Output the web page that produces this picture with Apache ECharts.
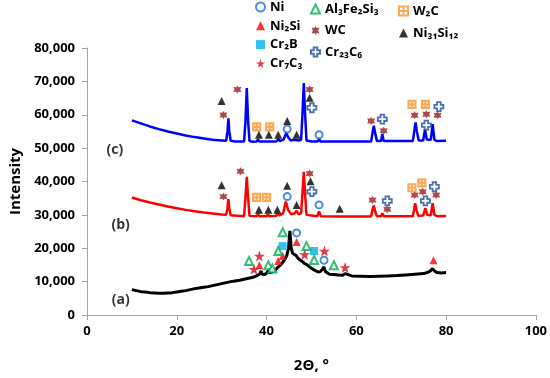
<!DOCTYPE html>
<html><head><meta charset="utf-8">
<script src="https://cdn.jsdelivr.net/npm/echarts@6/dist/echarts.min.js"></script>
<style>html,body{margin:0;padding:0;background:#fff}#c{width:550px;height:378px}</style>
</head><body><div id="c"></div>
<script>
// ---- Data: [2θ, intensity] ----
const patternC = [[10,58300],[12,57400],[14,56500],[16,55700],[18,55000],[20,54400],[22,53800],[24,53300],[26,52900],[28,52500],[30,52300],[31.0,52200],[31.3,55000],[31.5,58900],[31.7,55000],[32.0,52200],[33,52000],[35.0,52000],[35.3,58000],[35.6,68000],[35.9,58000],[36.2,52100],[37,51900],[37.8,52000],[38.1,52600],[38.4,52000],[40.0,52000],[40.3,52500],[40.6,52000],[42.2,52000],[42.6,52700],[43.0,52100],[43.8,52600],[44.4,54500],[44.8,53300],[45.4,52300],[46.3,52500],[46.7,53000],[47.1,52300],[47.7,52500],[48.0,60000],[48.3,69500],[48.6,60000],[48.9,52300],[50,52000],[51.4,52000],[51.7,52700],[52.0,52000],[63.3,52000],[63.6,54500],[63.9,56700],[64.2,54500],[64.6,52100],[65.5,52100],[65.8,54200],[66.1,52100],[72.6,52100],[72.9,55000],[73.2,57700],[73.5,55000],[73.9,52300],[74.9,52300],[75.3,55600],[75.7,52600],[76.6,52500],[77.0,57200],[77.4,52500],[78,52100],[80,52200]];
const patternB = [[10,35200],[12,34400],[14,33700],[16,33100],[18,32500],[20,32000],[22,31500],[24,31100],[26,30700],[28,30400],[30,30100],[31.0,30000],[31.3,32000],[31.5,34700],[31.7,32000],[32.0,29900],[35.0,29600],[35.3,35000],[35.6,41400],[35.9,35000],[36.2,29700],[37.8,29600],[38.1,30300],[38.4,29600],[40.0,29600],[40.3,30200],[40.6,29600],[42.1,29700],[42.5,30400],[42.9,29800],[43.7,30500],[44.3,34000],[44.8,31500],[45.5,30200],[46.3,30500],[46.7,31200],[47.1,30200],[47.7,30500],[48.0,36500],[48.3,42900],[48.6,36000],[48.9,30000],[51.3,29600],[51.7,31000],[52.1,29600],[55.8,29500],[56.1,30000],[56.4,29500],[63.3,29500],[63.6,31500],[63.9,32800],[64.2,31000],[64.6,29600],[65.5,29600],[65.8,30500],[66.1,29600],[72.6,29600],[72.9,31800],[73.1,33500],[73.4,31500],[73.8,29700],[74.9,29800],[75.4,32000],[75.8,30000],[76.6,29900],[77.0,33500],[77.4,30000],[78,29600],[80,29700]];
const patternA = [[10,7600],[11,7300],[12,7000],[13,6900],[14,6700],[15,6600],[16,6500],[17,6500],[18,6600],[19,6700],[20,6900],[21,7100],[22,7300],[23,7600],[24,7900],[25,8100],[26,8300],[27,8500],[28,8800],[29,9100],[30,9400],[31,9700],[32,10000],[33,10200],[34,10400],[35,10700],[36,11000],[37,11300],[37.5,11600],[38,11900],[38.5,12300],[38.8,13200],[39.0,12300],[39.5,12100],[40,12500],[40.4,13300],[40.7,12600],[41,12800],[41.5,13000],[42,13500],[42.5,14300],[43,14800],[43.5,15600],[44,16500],[44.5,17800],[44.9,20000],[45.2,25200],[45.5,20000],[45.8,18500],[46.2,18000],[46.6,17800],[47,17000],[47.5,16500],[48,16000],[48.5,15400],[49,15100],[49.5,14500],[50,14000],[50.5,13600],[51,13200],[51.5,12900],[52,13000],[52.5,13800],[52.8,14400],[53.1,13000],[53.5,12500],[54,12200],[55,12100],[56,12000],[57,11900],[57.5,12400],[57.8,11900],[59,11700],[61,11600],[63,11500],[65,11600],[67,11700],[69,11800],[71,12000],[73,12200],[75,12400],[76,12800],[76.6,13300],[77,13900],[77.4,13200],[78,12700],[79,12600],[80,12700]];

// phase markers [2θ, intensity]
const markNi = [[44.6,55700],[51.7,54000],[44.6,35470],[51.7,32980],[46.7,24600],[52.8,16390]];
const markNi2Si = [[38.4,14900],[42.6,16200],[43.6,17690],[46.7,21840],[77.2,16390]];
const markCr2B = [[43.6,20650],[50.6,19170]];
const markCr7C3 = [[38.4,17690],[37.2,13720],[48.5,18160],[52.9,19170],[57.5,14220]];
const markAl3Fe2Si3 = [[36.1,16200],[40.4,14900],[41.3,13930],[42.6,19170],[43.6,24800],[48.9,20650],[50.6,16500],[55.0,14900]];
const markWC = [[30.4,59940],[33.5,67560],[49.6,67560],[63.3,58160],[66.1,55200],[73.0,59850],[75.6,60150],[78.1,59850],[30.4,35470],[34.2,43050],[49.6,42370],[63.6,34460],[66.9,31700],[73.0,35950],[74.8,36950],[77.8,35950]];
const markCr23C6 = [[50.1,62100],[65.8,58670],[78.4,62430],[75.6,56890],[50.1,36950],[66.9,34170],[77.4,38430],[75.4,34170]];
const markW2C = [[37.8,56390],[40.7,56390],[72.4,63100],[75.4,63100],[37.8,35260],[40.0,35260],[72.4,38130],[74.6,39610]];
const markNi31Si12 = [[30.0,64090],[38.3,54000],[40.5,54000],[42.6,54000],[44.6,58160],[46.7,54000],[49.6,65100],[30.0,38900],[38.3,31500],[40.4,31500],[42.4,31500],[44.6,38720],[46.7,32980],[49.8,40100],[56.3,31800]];

const curveLabels = [[6.2,49480,'(c)'],[7.5,27050,'(b)'],[7.5,4530,'(a)']];
const xTicks = [0,20,40,60,80,100];
const yTicks = [0,10000,20000,30000,40000,50000,60000,70000,80000];

const FONT = 'Open Sans';
const starPath = 'path://M50,0 L61.8,35.1 L97.6,34.5 L68.8,55.9 L79.4,90.5 L50,70 L20.6,90.5 L31.2,55.9 L2.4,34.5 L38.2,35.1 Z';
const gearPath = 'path://M50,0 L62,22 L93,18 L80,50 L93,82 L62,78 L50,100 L38,78 L7,82 L20,50 L7,18 L38,22 Z';
const plusPath = 'path://M30,0 H70 V30 H100 V70 H70 V100 H30 V70 H0 V30 H30 Z';
const gridSqPath = 'path://M0,0 H100 V100 H0 Z M50,0 V100 M0,50 H100';

function scatter(name, data, symbol, size, style) {
  return { name, type: 'scatter', data, symbol, symbolSize: size, z: 5, itemStyle: style };
}
const series = [
  { name: 'a', type: 'line', data: patternA, showSymbol: false, symbol: 'none', lineStyle: { color: '#000', width: 3 }, z: 2 },
  { name: 'b', type: 'line', data: patternB, showSymbol: false, symbol: 'none', lineStyle: { color: '#ff0000', width: 2.5 }, z: 2 },
  { name: 'c', type: 'line', data: patternC, showSymbol: false, symbol: 'none', lineStyle: { color: '#0000ff', width: 2.5 }, z: 2 },
  scatter('Ni', markNi, 'emptyCircle', 7, { color: '#1a6fd6', borderWidth: 1.6 }),
  scatter('Ni₂Si', markNi2Si, 'triangle', 8, { color: '#ff0000' }),
  scatter('Cr₂B', markCr2B, 'rect', 8, { color: '#00b0f0' }),
  scatter('Cr₇C₃', markCr7C3, starPath, 11, { color: '#d0101c' }),
  scatter('Al₃Fe₂Si₃', markAl3Fe2Si3, 'emptyTriangle', 8, { color: '#00b050', borderWidth: 1.6 }),
  scatter('WC', markWC, gearPath, 8, { color: '#9a1b1e' }),
  scatter('Cr₂₃C₆', markCr23C6, plusPath, 9, { color: '#ffffff', borderColor: '#1f4e9a', borderWidth: 1.8 }),
  scatter('W₂C', markW2C, gridSqPath, 7, { color: '#ffffff', borderColor: '#f7962f', borderWidth: 2.2 }),
  scatter('Ni₃₁Si₁₂', markNi31Si12, 'triangle', 8, { color: '#000000' }),
  { name: 'labels', type: 'scatter', data: curveLabels, symbolSize: 0, z: 6, silent: true,
    label: { show: true, position: 'inside', formatter: p => p.data[2], color: '#000', fontFamily: FONT, fontWeight: 'bold', fontSize: 14 } }
];

function legend(items, left, top, gap) {
  return { data: items, orient: 'vertical', left, top, padding: 0, itemGap: gap, itemWidth: 9, itemHeight: 9, selectedMode: false,
    textStyle: { fontFamily: FONT, fontWeight: 'bold', fontSize: 13, color: '#000', lineHeight: 14 } };
}

const chart = echarts.init(document.getElementById('c'), null, { renderer: 'canvas' });
chart.setOption({
  animation: false,
  backgroundColor: '#fff',
  grid: { left: 87, right: 13, top: 48, bottom: 60 },
  legend: [
    legend(['Ni', 'Ni₂Si', 'Cr₂B', 'Cr₇C₃'], 255, 0, 4.8),
    legend(['Al₃Fe₂Si₃', 'WC', 'Cr₂₃C₆'], 310, 2, 7.5),
    legend(['W₂C', 'Ni₃₁Si₁₂'], 398, 4, 8)
  ],
  xAxis: {
    type: 'value', min: xTicks[0], max: xTicks[xTicks.length - 1], interval: 20,
    name: '2Θ, °', nameLocation: 'middle', nameGap: 43,
    nameTextStyle: { fontFamily: FONT, fontWeight: 'bold', fontSize: 15, color: '#000' },
    axisLine: { lineStyle: { color: '#a6a6a6', width: 1 } },
    axisTick: { show: true, length: 5, lineStyle: { color: '#a6a6a6' } },
    axisLabel: { margin: 10, fontFamily: FONT, fontWeight: 'bold', fontSize: 13, color: '#000' },
    splitLine: { show: false }
  },
  yAxis: {
    type: 'value', min: yTicks[0], max: yTicks[yTicks.length - 1], interval: 10000,
    name: 'Intensity', nameLocation: 'middle', nameGap: 52,
    nameTextStyle: { fontFamily: FONT, fontWeight: 'bold', fontSize: 15, color: '#000' },
    axisLine: { show: true, lineStyle: { color: '#a6a6a6', width: 1 } },
    axisTick: { show: true, length: 5, lineStyle: { color: '#a6a6a6' } },
    axisLabel: { margin: 12, fontFamily: FONT, fontWeight: 'bold', fontSize: 13, color: '#000',
      formatter: v => v.toLocaleString('en-US') },
    splitLine: { show: false }
  },
  series
});
</script></body></html>
